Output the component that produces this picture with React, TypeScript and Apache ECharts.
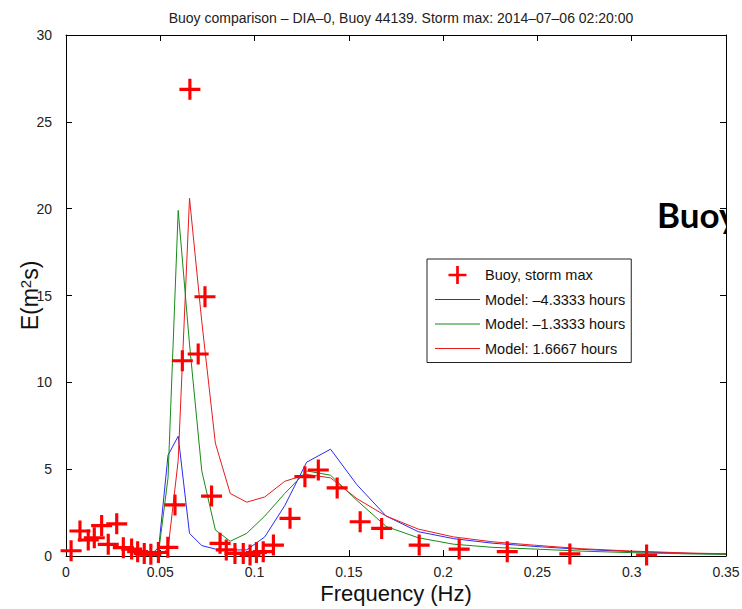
import React, { useEffect, useRef } from "react";
import * as echarts from "echarts";

const TITLE = "Buoy comparison – DIA–0, Buoy 44139. Storm max: 2014–07–06 02:20:00";
const X_NAME = "Frequency (Hz)";
const Y_NAME = "{a|E(m}{b|2}{a|s)}";

const buoyName = "Buoy, storm max";
const modelNames = ["Model: –4.3333 hours", "Model: –1.3333 hours", "Model: 1.6667 hours"];
const modelColors = ["#2a2af5", "#178a17", "#e81c1c"];

// Buoy spectrum at the storm maximum
const buoyFreq = [
  0.0027, 0.0074, 0.0118, 0.015, 0.0189, 0.0224, 0.0269, 0.0304, 0.0348, 0.038,
  0.0415, 0.045, 0.049, 0.054, 0.0578, 0.0617, 0.0657, 0.0701, 0.0737, 0.0772,
  0.0817, 0.085, 0.0896, 0.094, 0.0976, 0.101, 0.1046, 0.11, 0.1188, 0.1267,
  0.1338, 0.1438, 0.156, 0.1674, 0.1873, 0.2085, 0.234, 0.2672, 0.3079,
];
const buoyEnergy = [
  0.3, 1.44, 0.92, 1.05, 1.75, 0.67, 1.85, 0.48, 0.4, 0.25,
  0.15, 0.1, 0.2, 0.5, 2.94, 11.24, 26.87, 11.63, 14.93, 3.45,
  0.73, 0.35, 0.15, 0.15, 0.06, 0.2, 0.25, 0.63, 2.17, 4.57,
  4.95, 3.92, 1.97, 1.59, 0.63, 0.4, 0.25, 0.12, 0.06,
];

// Model frequency bins
const modelFreq = [
  0.0369, 0.0406, 0.0447, 0.0492, 0.0541, 0.0595, 0.0655, 0.072, 0.0792, 0.0871,
  0.0958, 0.1054, 0.116, 0.1276, 0.1403, 0.1543, 0.1698, 0.1868, 0.2055, 0.226,
  0.2486, 0.2735, 0.3008, 0.3309, 0.364,
];
const modelEarly = [
  0, 0, 0.05, 0.5, 5.8, 6.9, 1.3, 0.6, 0.4, 0.35,
  0.35, 1.1, 2.9, 5.4, 6.15, 4.1, 2.3, 1.4, 1.0, 0.74,
  0.55, 0.38, 0.25, 0.15, 0.09,
];
const modelMid = [
  0, 0, 0.05, 0.3, 4.5, 19.9, 12.2, 4.9, 1.5, 0.85,
  1.3, 2.3, 3.6, 4.9, 4.65, 3.2, 1.7, 1.05, 0.68, 0.5,
  0.4, 0.28, 0.19, 0.12, 0.07,
];
const modelLate = [
  0, 0, 0, 0.05, 0.4, 5.5, 20.6, 13.5, 6.5, 3.6,
  3.1, 3.4, 4.3, 4.7, 4.5, 3.3, 2.3, 1.55, 1.1, 0.82,
  0.62, 0.42, 0.28, 0.17, 0.1,
];
const modelValues = [modelEarly, modelMid, modelLate];

const PLUS = "path://M8.5,0 H11.5 V8.5 H20 V11.5 H11.5 V20 H8.5 V11.5 H0 V8.5 H8.5 Z";
const DASH = "path://M0,0 H45 V1 H0 Z";
const FONT = "Liberation Sans, Arial, sans-serif";

export default function App() {
  const ref = useRef<HTMLDivElement>(null);

  useEffect(() => {
    if (!ref.current) return;
    const chart = echarts.init(ref.current, undefined, { renderer: "svg" });

    const tick = { show: true, inside: true, length: 6, lineStyle: { color: "#000", width: 1 } };
    const line = { show: true, onZero: false, lineStyle: { color: "#000", width: 1 } };
    const label = { color: "#222", fontSize: 14, fontFamily: FONT, lineHeight: 14 };

    chart.setOption({
      animation: false,
      backgroundColor: "#fff",
      title: {
        text: TITLE,
        left: 396,
        textAlign: "center",
        top: 6,
        textStyle: { fontSize: 14, fontWeight: "normal", color: "#222", fontFamily: FONT },
      },
      grid: { left: 66, right: 16, top: 35, bottom: 53, show: false, outerBoundsMode: "none", containLabel: false },
      legend: {
        orient: "vertical",
        left: 427,
        top: 259,
        padding: [7, 6, 5, 8],
        itemWidth: 45,
        itemHeight: 18,
        itemGap: 6.5,
        borderColor: "#222",
        borderWidth: 1,
        backgroundColor: "#fff",
        textStyle: { fontSize: 14.5, color: "#111", fontFamily: FONT, lineHeight: 18 },
        data: [
          { name: buoyName, icon: PLUS },
          ...modelNames.map((n) => ({ name: n, icon: DASH })),
        ],
      },
      xAxis: [
        {
          type: "value",
          min: 0,
          max: 0.35,
          interval: 0.05,
          name: X_NAME,
          nameLocation: "middle",
          nameGap: 26,
          nameMoveOverlap: false,
          nameTextStyle: { fontSize: 22, lineHeight: 22, color: "#111", fontFamily: FONT },
          axisLine: line,
          axisTick: tick,
          axisLabel: { ...label, margin: 9 },
          splitLine: { show: false },
        },
        {
          type: "value",
          position: "top",
          min: 0,
          max: 0.35,
          interval: 0.05,
          axisLine: line,
          axisTick: tick,
          axisLabel: { show: false },
          splitLine: { show: false },
        },
      ],
      yAxis: [
        {
          type: "value",
          min: 0,
          max: 30,
          interval: 5,
          name: Y_NAME,
          nameLocation: "middle",
          nameGap: 25,
          nameMoveOverlap: false,
          nameTextStyle: {
            color: "#111",
            fontFamily: FONT,
            rich: {
              a: { fontSize: 23, lineHeight: 23, verticalAlign: "bottom", color: "#111", fontFamily: FONT },
              b: { fontSize: 15, lineHeight: 15, verticalAlign: "top", padding: [0, 0, 12, 0], color: "#111", fontFamily: FONT },
            },
          },
          axisLine: line,
          axisTick: tick,
          axisLabel: { ...label, margin: 14 },
          splitLine: { show: false },
        },
        {
          type: "value",
          position: "right",
          min: 0,
          max: 30,
          interval: 5,
          z: 60,
          axisLine: line,
          axisTick: tick,
          axisLabel: { show: false },
          splitLine: { show: false },
        },
      ],
      graphic: [
        {
          type: "text",
          x: 657,
          y: 214,
          z: 50,
          style: {
            text: "Buoy",
            fontSize: 35,
            fontWeight: "bold",
            fontFamily: "Lato, sans-serif",
            fill: "#000",
            verticalAlign: "middle",
          },
        },
        {
          type: "rect",
          z: 51,
          shape: { x: 727, y: 185, width: 15, height: 60 },
          style: { fill: "#fff" },
        },
      ],
      series: [
        ...modelValues.map((vals, i) => ({
          type: "line",
          name: modelNames[i],
          data: modelFreq.map((f, k) => [f, vals[k]]),
          showSymbol: false,
          symbol: "none",
          lineStyle: { color: modelColors[i], width: 1 },
          itemStyle: { color: modelColors[i] },
          clip: true,
          z: 2,
        })),
        {
          type: "scatter",
          name: buoyName,
          data: buoyFreq.map((f, k) => [f, buoyEnergy[k]]),
          symbol: PLUS,
          symbolSize: 21,
          itemStyle: { color: "#f00", opacity: 1 },
          z: 3,
        },
      ],
    });

    return () => chart.dispose();
  }, []);

  return (
    <div
      ref={ref}
      style={{ position: "fixed", left: 0, top: 0, width: 742, height: 609, background: "#fff" }}
    />
  );
}
